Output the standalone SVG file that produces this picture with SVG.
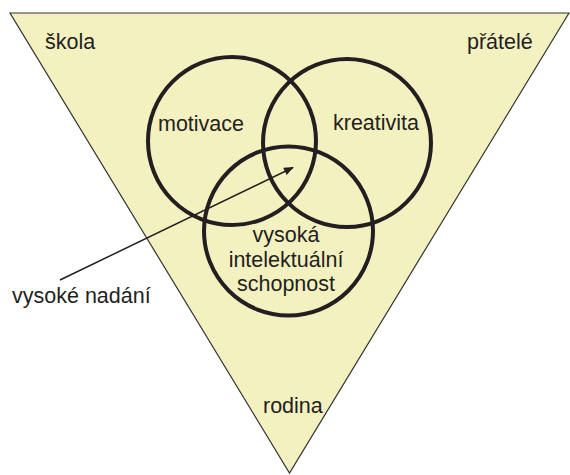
<svg xmlns="http://www.w3.org/2000/svg" width="570" height="475" viewBox="0 0 570 475">
<defs>
<style>
.t{font-family:"Liberation Sans",Arial,sans-serif;font-size:21.5px;fill:#231f20}
.c{fill:none;stroke:#231f20;stroke-width:4}
</style>
<marker id="ah" markerWidth="10" markerHeight="8" refX="9" refY="4" orient="auto" markerUnits="userSpaceOnUse">
<path d="M0,0 L10,4 L0,8 Z" fill="#231f20"/>
</marker>
</defs>
<rect width="570" height="475" fill="#ffffff"/>
<g id="triangle">
<polygon points="10,13 569,13 289.5,473" fill="#f4f1c1" stroke="#333333" stroke-width="1.2"/>
<text class="t" x="45" y="49">škola</text>
<text class="t" x="467" y="49">přátelé</text>
<text class="t" x="263" y="413">rodina</text>
</g>
<g id="motivace">
<circle class="c" cx="232" cy="141" r="84"/>
<text class="t" x="158" y="131">motivace</text>
</g>
<g id="kreativita">
<circle class="c" cx="347" cy="143" r="84"/>
<text class="t" x="333" y="130">kreativita</text>
</g>
<g id="schopnost">
<circle class="c" cx="288.5" cy="231" r="84.5"/>
<text class="t" text-anchor="middle" x="286" y="242">vysoká</text>
<text class="t" text-anchor="middle" x="286" y="266.5">intelektuální</text>
<text class="t" text-anchor="middle" x="286" y="290.5">schopnost</text>
</g>
<g id="connectors">
<line x1="60" y1="280" x2="293" y2="167.5" stroke="#231f20" stroke-width="1.5" marker-end="url(#ah)"/>
</g>
<g id="nadani">
<text class="t" x="12" y="303">vysoké nadání</text>
</g>
</svg>
